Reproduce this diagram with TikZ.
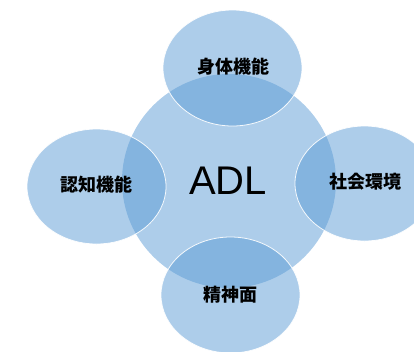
\documentclass[tikz,border=0pt]{standalone}
\usepackage{fontspec}
\setmainfont{Liberation Sans}
\newfontfamily\jpfont{Noto Sans CJK JP}
\definecolor{blobc}{RGB}{91,155,213}
\begin{document}
\begin{tikzpicture}[x=1pt,y=-1pt,
  blob/.style={fill=blobc,fill opacity=0.5,draw=white,draw opacity=0.9,line width=0.8pt},
  core/.style={fill=blobc,fill opacity=0.5},
  jlabel/.style={font=\jpfont\bfseries\fontsize{18}{18}\selectfont,text=black},
  mainlabel/.style={font=\fontsize{40}{40}\selectfont,text=black}]
\useasboundingbox (0,0) rectangle (414,351);
\begin{scope}
\clip (0,0) rectangle (414,351);
\path[core] (229,181) circle[radius=107];
\path[blob] (232.5,68) ellipse[x radius=69.5,y radius=58];
\path[blob] (96.5,186.5) ellipse[x radius=69.5,y radius=57.5];
\path[blob] (364.5,183.5) ellipse[x radius=69.5,y radius=57.5];
\path[blob] (230.5,295) ellipse[x radius=69.5,y radius=58];
\end{scope}
\node[mainlabel] (adl) at (228,181) {ADL};
\node[jlabel] (top) at (233,67) {身体機能};
\node[jlabel] (left) at (96,185) {認知機能};
\node[jlabel] (right) at (365,182) {社会環境};
\node[jlabel] (bottom) at (230,295) {精神面};
\end{tikzpicture}
\end{document}
